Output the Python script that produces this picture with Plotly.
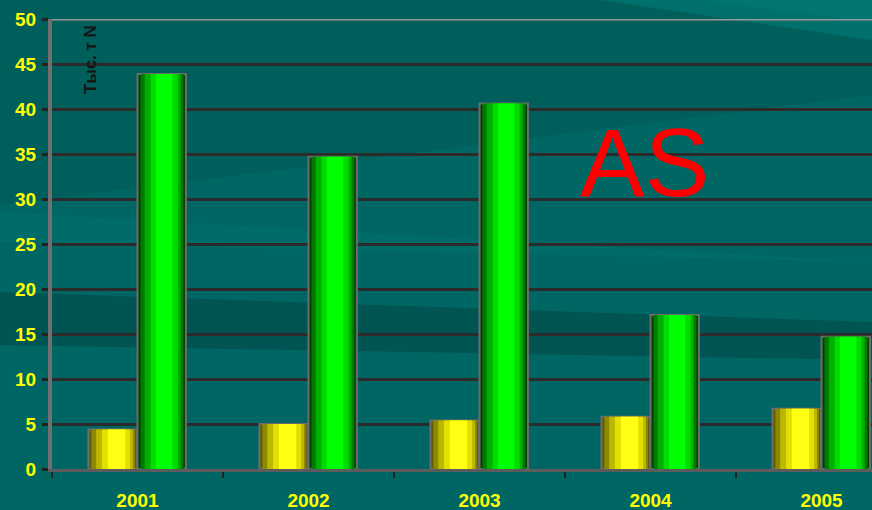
import plotly.graph_objects as go

years = ["2001", "2002", "2003", "2004", "2005"]
yellow_vals = [4.4, 5.0, 5.4, 5.8, 6.7]
green_vals = [43.9, 34.7, 40.6, 17.1, 14.7]
y_ticks = [0, 5, 10, 15, 20, 25, 30, 35, 40, 45, 50]
unit_label = "Тыс. т N"
big_label = "AS"

# cylinder look: stacked narrower bars, (left, right, colour) as fraction of bar width
yellow_shades = [(0.0, 1.0, "#5e5c00"), (0.06, 0.96, "#8c8800"), (0.16, 0.92, "#bcb800"),
                 (0.28, 0.86, "#e2e000"), (0.40, 0.76, "#ffff14")]
green_shades = [(0.0, 1.0, "#003f00"), (0.06, 0.95, "#007a00"), (0.15, 0.89, "#00b000"),
                (0.27, 0.83, "#00dc00"), (0.38, 0.72, "#00ff00")]

W, H = 872, 510
L, R, T, B = 52, 0, 19, 41
bw = 0.283
fig = go.Figure()


def add_cylinder(vals, shades, start):
    for i, (a, b, col) in enumerate(shades):
        fig.add_trace(go.Bar(
            x=years, y=vals, width=bw * (b - a), offset=start + bw * a,
            marker=dict(color=col,
                        line=dict(color="#6c6c6c" if i == 0 else col, width=2 if i == 0 else 0)),
            showlegend=False, hoverinfo="skip"))


add_cylinder(yellow_vals, yellow_shades, -bw - 0.004)
add_cylinder(green_vals, green_shades, 0.0)


def px_path(pts):
    # pixel points of the whole picture -> paper coords
    pw, ph = W - L - R, H - T - B
    conv = [((x - L) / pw, (H - B - y) / ph) for x, y in pts]
    return "M " + " L ".join(f"{a:.4f} {b:.4f}" for a, b in conv) + " Z"


# soft diagonal bands of the slide background
bands = [
    ([(0, 0), (872, 0), (872, 95), (0, 205)], "#005e5b"),
    ([(600, 0), (872, 0), (872, 40)], "#00706d"),
    ([(700, 0), (872, 0), (872, 22)], "#007571"),
    ([(0, 212), (872, 262), (0, 242)], "#006c69"),
    ([(0, 292), (872, 322), (872, 360), (0, 345)], "#005552"),
]
shapes = [dict(type="path", path=px_path(p), xref="paper", yref="paper", fillcolor=c,
               line=dict(width=0), layer="below") for p, c in bands]

fig.add_annotation(x=0.0463, y=0.911, xref="paper", yref="paper", text=unit_label, textangle=-90,
                   showarrow=False, xanchor="center", yanchor="middle",
                   font=dict(family="Liberation Sans", size=17, color="#151515", weight="bold"))
fig.add_annotation(x=0.723, y=0.682, xref="paper", yref="paper", text=big_label, showarrow=False,
                   xanchor="center", yanchor="middle",
                   font=dict(family="Liberation Sans", size=97, color="#ff0000"))

tick_font = dict(family="Liberation Sans", size=19, color="#ffff00", weight="bold")
fig.update_layout(
    width=W, height=H,
    margin=dict(l=L, r=R, t=T, b=B),
    paper_bgcolor="#006663", plot_bgcolor="rgba(0,0,0,0)",
    barmode="overlay", shapes=shapes,
    xaxis=dict(type="category", range=[-0.5, 4.295], showgrid=False, automargin=False,
               tickfont=tick_font, ticklabelstandoff=12,
               ticks="outside", tickson="boundaries", ticklen=6, tickcolor="#222222", tickwidth=2,
               showline=True, linecolor="#5c5c5c", linewidth=3, zeroline=False),
    yaxis=dict(range=[0, 50], tickvals=y_ticks, showgrid=True, gridcolor="#2b2b2b", gridwidth=3,
               tickfont=tick_font, automargin=False, ticklabelstandoff=2,
               ticks="outside", ticklen=6, tickcolor="#222222", tickwidth=3,
               showline=True, linecolor="#707070", linewidth=4, zeroline=False),
)
fig.add_hline(y=50, line=dict(color="#9a9a9a", width=3))

fig.write_html("out.html", config={"displayModeBar": False},
               post_script="document.body.style.margin='0px';")
